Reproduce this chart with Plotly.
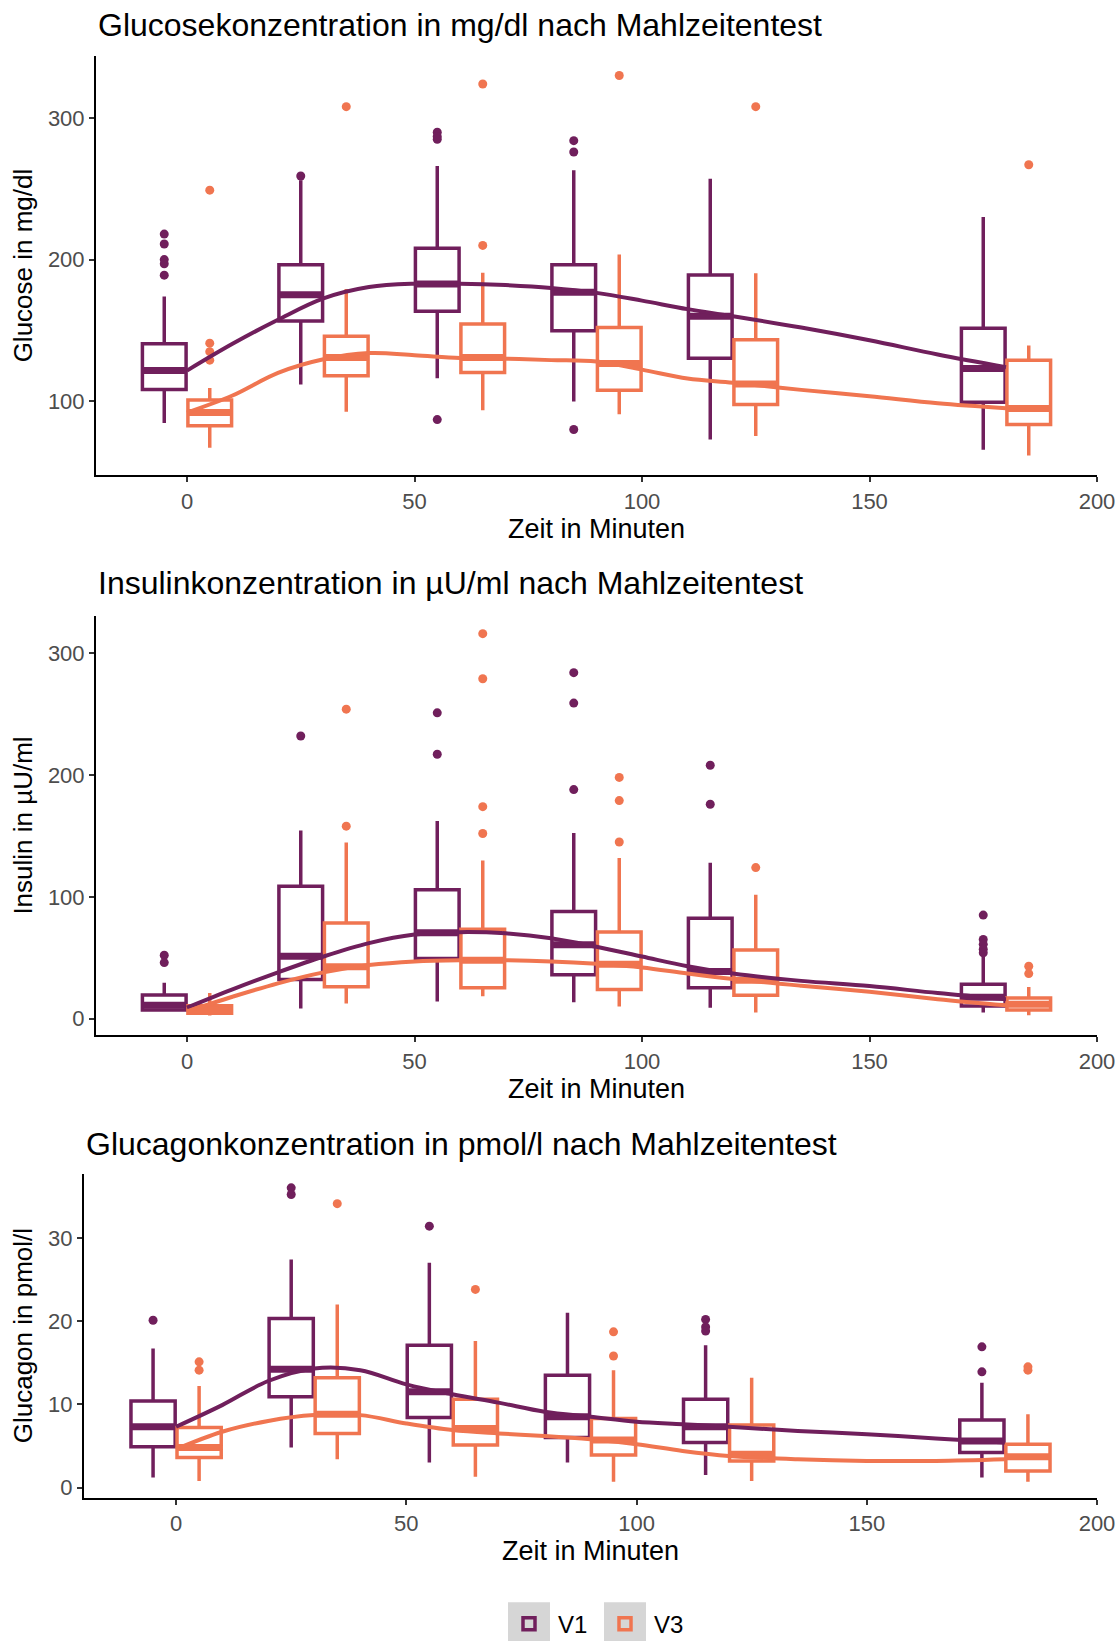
import plotly.graph_objects as go

W, H = 1119, 1647
C1 = "#701F5C"
C3 = "#F07550"

# ---------------- data ----------------
times = [0, 30, 60, 90, 120, 180]
pos_v1 = [-5, 25, 55, 85, 115, 175]
pos_v3 = [5, 35, 65, 95, 125, 185]

# Glucose (mg/dl)
glu_v1_q1 = [108.2, 156.7, 163.5, 149.8, 130.3, 99.3]
glu_v1_med = [121.6, 175.2, 182.7, 177.0, 160.0, 123.1]
glu_v1_q3 = [140.5, 196.3, 208.0, 196.4, 189.1, 151.5]
glu_v1_lo = [84.6, 111.8, 116.2, 99.8, 73.0, 65.8]
glu_v1_hi = [174.0, 256.0, 266.0, 263.0, 257.0, 230.0]
glu_v1_out = [[218, 211, 200, 197, 189], [259], [290, 287, 285, 87], [284, 276, 80], [], []]

glu_v3_q1 = [82.7, 117.9, 120.3, 107.8, 97.6, 83.5]
glu_v3_med = [92.0, 130.8, 130.8, 126.7, 112.1, 94.9]
glu_v3_q3 = [100.9, 145.8, 154.6, 152.0, 143.4, 128.9]
glu_v3_lo = [67.2, 92.6, 93.6, 90.8, 75.5, 61.7]
glu_v3_hi = [109.4, 179.3, 190.7, 203.6, 190.3, 139.3]
glu_v3_out = [[249, 141, 135, 129], [308], [324, 210], [330], [308], [267]]

# Insulin (µU/ml)
ins_v1_q1 = [7.0, 32.2, 49.4, 36.1, 25.4, 10.4]
ins_v1_med = [11.0, 51.3, 70.6, 60.7, 38.7, 17.5]
ins_v1_q3 = [19.4, 108.6, 105.8, 88.0, 82.4, 28.2]
ins_v1_lo = [5.7, 8.4, 14.1, 13.5, 9.0, 5.1]
ins_v1_hi = [29.5, 154.4, 162.3, 152.4, 127.9, 50.8]
ins_v1_out = [[52, 46], [232], [251, 217], [284, 259, 188], [208, 176], [85, 65, 61, 57, 54]]

ins_v3_q1 = [4.5, 26.2, 25.4, 24.0, 19.2, 7.1]
ins_v3_med = [7.0, 42.6, 48.0, 44.6, 31.6, 11.9]
ins_v3_q3 = [10.5, 78.6, 73.4, 71.1, 56.4, 16.9]
ins_v3_lo = [2.5, 12.5, 18.3, 9.9, 5.1, 2.8]
ins_v3_hi = [21.0, 144.5, 129.8, 131.8, 101.6, 26.0]
ins_v3_out = [[], [254, 158], [316, 279, 174, 152], [198, 179, 145], [124], [43, 37]]

# Glucagon (pmol/l)
gcg_v1_q1 = [4.9, 10.9, 8.4, 6.0, 5.4, 4.2]
gcg_v1_med = [7.3, 14.2, 11.5, 8.5, 7.3, 5.6]
gcg_v1_q3 = [10.4, 20.3, 17.1, 13.5, 10.6, 8.1]
gcg_v1_lo = [1.2, 4.8, 3.0, 3.0, 1.5, 1.2]
gcg_v1_hi = [16.7, 27.4, 27.0, 21.0, 17.1, 12.6]
gcg_v1_out = [[20.1], [36.0, 35.2], [31.4], [], [20.2, 19.3, 18.8], [16.9, 13.9]]

gcg_v3_q1 = [3.6, 6.5, 5.1, 3.9, 3.2, 2.0]
gcg_v3_med = [4.8, 8.8, 7.1, 5.7, 4.0, 3.7]
gcg_v3_q3 = [7.2, 13.2, 10.6, 8.3, 7.5, 5.2]
gcg_v3_lo = [0.8, 3.4, 1.3, 0.7, 0.8, 0.7]
gcg_v3_hi = [12.2, 22.0, 17.6, 14.1, 13.2, 8.8]
gcg_v3_out = [[15.1, 14.1], [34.1], [23.8], [18.7, 15.8], [], [14.5, 14.1]]

# Smoothed curves
smooth_t = [0, 10, 20, 30, 40, 50, 60, 70, 80, 90, 100, 110, 120, 135, 150, 165, 180]
glu_v1_smooth = [121.6, 140.5, 157.5, 172.6, 180.6, 183, 183, 182, 180, 176.5, 171, 165, 160, 152, 143, 133, 124]
glu_v3_smooth = [92, 104, 120, 129.6, 134, 132.5, 130.5, 130, 129, 128, 122.3, 116, 113, 108, 103.5, 98.5, 95]
ins_v1_smooth = [9, 24, 38, 51, 62, 69, 71, 70, 66, 59, 51, 43, 37, 31, 26.8, 21, 16]
ins_v3_smooth = [6, 18, 29, 38, 44, 47, 48, 48, 47, 45, 42, 37, 32.5, 27, 22, 16, 11]
gcg_v1_smooth = [7.3, 9.9, 12.8, 14.3, 14.1, 12.4, 11.2, 10.2, 9.1, 8.5, 7.9, 7.6, 7.3, 6.8, 6.4, 5.9, 5.4]
gcg_v3_smooth = [4.6, 6.7, 8.0, 8.7, 8.7, 7.7, 6.9, 6.5, 6.2, 5.8, 5.2, 4.4, 3.8, 3.4, 3.2, 3.2, 3.4]

titles = ["Glucosekonzentration in mg/dl nach Mahlzeitentest",
          "Insulinkonzentration in µU/ml nach Mahlzeitentest",
          "Glucagonkonzentration in pmol/l nach Mahlzeitentest"]
ytitles = ["Glucose in mg/dl", "Insulin in µU/ml", "Glucagon in pmol/l"]
xtitle = "Zeit in Minuten"
legend_names = ["V1", "V3"]
x_ticks = [0, 50, 100, 150, 200]
y_ticks = [[100, 200, 300], [0, 100, 200, 300], [0, 10, 20, 30]]
y_ranges = [[47.7, 343.9], [-13.6, 330.7], [-1.2, 37.7]]

# ---------------- layout geometry (pixels) ----------------
panels = [  # left, right, top, bottom
    (96, 1097, 56, 477),
    (96, 1097, 618, 1039),
    (84, 1097, 1178, 1503),
]
title_y = [25, 585, 1148]
BOXW = 9.6

fig = go.Figure()

sets = [
    (glu_v1_q1, glu_v1_med, glu_v1_q3, glu_v1_lo, glu_v1_hi, glu_v1_out, glu_v1_smooth,
     glu_v3_q1, glu_v3_med, glu_v3_q3, glu_v3_lo, glu_v3_hi, glu_v3_out, glu_v3_smooth),
    (ins_v1_q1, ins_v1_med, ins_v1_q3, ins_v1_lo, ins_v1_hi, ins_v1_out, ins_v1_smooth,
     ins_v3_q1, ins_v3_med, ins_v3_q3, ins_v3_lo, ins_v3_hi, ins_v3_out, ins_v3_smooth),
    (gcg_v1_q1, gcg_v1_med, gcg_v1_q3, gcg_v1_lo, gcg_v1_hi, gcg_v1_out, gcg_v1_smooth,
     gcg_v3_q1, gcg_v3_med, gcg_v3_q3, gcg_v3_lo, gcg_v3_hi, gcg_v3_out, gcg_v3_smooth),
]


def add_group(i, pos, q1, med, q3, lo, hi, out, smooth, color, name):
    xa = "x" if i == 0 else f"x{i+1}"
    ya = "y" if i == 0 else f"y{i+1}"
    fig.add_trace(go.Box(
        x=pos, q1=q1, median=med, q3=q3, lowerfence=lo, upperfence=hi,
        width=BOXW, whiskerwidth=0, boxpoints=False,
        line=dict(color=color, width=3.5), fillcolor="rgba(255,255,255,0)",
        name=name, legendgroup=name, showlegend=(i == 0),
        xaxis=xa, yaxis=ya, hoverinfo="skip"))
    # thicker median bars
    mx, my = [], []
    for p, m in zip(pos, med):
        mx += [p - BOXW / 2, p + BOXW / 2, None]
        my += [m, m, None]
    fig.add_trace(go.Scatter(x=mx, y=my, mode="lines", line=dict(color=color, width=7),
                             showlegend=False, xaxis=xa, yaxis=ya, hoverinfo="skip"))
    ox, oy = [], []
    for p, vals in zip(pos, out):
        ox += [p] * len(vals)
        oy += vals
    fig.add_trace(go.Scatter(x=ox, y=oy, mode="markers", marker=dict(color=color, size=9),
                             showlegend=False, xaxis=xa, yaxis=ya, hoverinfo="skip"))


for i, s in enumerate(sets):
    add_group(i, pos_v1, *s[0:7], C1, legend_names[0])
    add_group(i, pos_v3, *s[7:14], C3, legend_names[1])
    xa = "x" if i == 0 else f"x{i+1}"
    ya = "y" if i == 0 else f"y{i+1}"
    fig.add_trace(go.Scatter(x=smooth_t, y=s[6], mode="lines", line=dict(color=C1, width=4, shape="spline"),
                             showlegend=False, xaxis=xa, yaxis=ya, hoverinfo="skip"))
    fig.add_trace(go.Scatter(x=smooth_t, y=s[13], mode="lines", line=dict(color=C3, width=4, shape="spline"),
                             showlegend=False, xaxis=xa, yaxis=ya, hoverinfo="skip"))

FONT = "Liberation Sans, Arial, sans-serif"
axis_common = dict(showline=True, linecolor="black", linewidth=2, ticks="outside", ticklen=5,
                   tickwidth=2, tickcolor="#333333", showgrid=False, zeroline=False,
                   tickfont=dict(size=22, color="#4D4D4D", family=FONT), automargin=False)
layout = dict(width=W, height=H, margin=dict(l=0, r=0, t=0, b=0), paper_bgcolor="white",
              plot_bgcolor="white", boxmode="overlay", font=dict(family=FONT, color="black"),
              annotations=[], shapes=[])
for i, (l, r, t, b) in enumerate(panels):
    k = "" if i == 0 else str(i + 1)
    layout["xaxis" + k] = dict(axis_common, domain=[l / W, r / W], range=[-20, 200], tickvals=x_ticks,
                               anchor="y" + k,
                               title=dict(text=xtitle, font=dict(size=27, color="black"), standoff=5))
    layout["yaxis" + k] = dict(axis_common, domain=[1 - b / H, 1 - t / H], range=y_ranges[i],
                               tickvals=y_ticks[i], anchor="x" + k,
                               title=dict(text=ytitles[i], font=dict(size=26, color="black"), standoff=8))
    layout["annotations"].append(dict(text=titles[i], xref="paper", yref="paper", x=l / W,
                                      y=1 - title_y[i] / H, xanchor="left", yanchor="middle",
                                      showarrow=False, font=dict(size=32, color="black")))
# grey legend key backgrounds
for x0 in (508, 604):
    layout["shapes"].append(dict(type="rect", xref="paper", yref="paper", x0=x0 / W, x1=(x0 + 42) / W,
                                 y0=0, y1=1 - 1608 / H, fillcolor="#D6D6D6", line=dict(width=0),
                                 layer="below"))
layout["legend"] = dict(orientation="h", x=500 / W, xanchor="left", y=1 - 1630 / H, yanchor="middle",
                        font=dict(size=24, color="black"), itemwidth=48,
                        entrywidth=33, entrywidthmode="pixels", bgcolor="rgba(0,0,0,0)")
fig.update_layout(**layout)
fig.write_html("out.html", config={"displayModeBar": False},
               post_script="document.body.style.margin='0px';document.body.style.overflow='hidden';")
